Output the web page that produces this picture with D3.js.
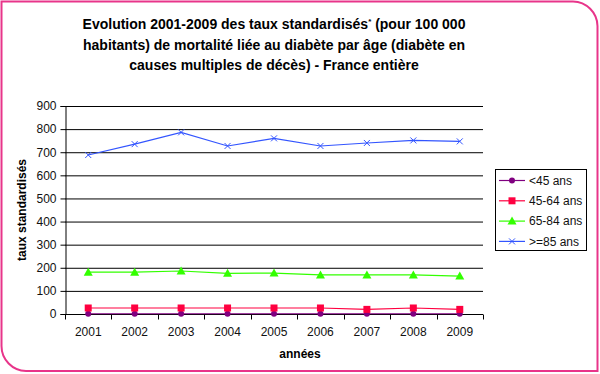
<!DOCTYPE html>
<html><head><meta charset="utf-8">
<script src="https://cdn.jsdelivr.net/npm/d3@7/dist/d3.min.js"></script>
<style>body{margin:0;background:#fff;}svg{display:block;font-family:"Liberation Sans",Arial,sans-serif;}</style>
</head><body>
<svg id="c" width="600" height="374"></svg>
<script>
const years = ["2001","2002","2003","2004","2005","2006","2007","2008","2009"];
const seriesNames = ["<45 ans","45-64 ans","65-84 ans",">=85 ans"];
const v_lt45 = [1,1,1,1,1,1,1,1,1];
const v_45_64 = [26,26,26,26,26,26,20,26,20];
const v_65_84 = [181,181,186,176,177,169,169,169,164];
const v_ge85 = [688,735,786,727,760,727,740,751,747];
const yTicks = [0,100,200,300,400,500,600,700,800,900];
const titleLines = ["Evolution 2001-2009 des taux standardisés* (pour 100 000","habitants) de mortalité liée au diabète par âge (diabète en","causes multiples de décès) - France entière"];
const colors = ["#800080","#ff0040","#33ff00","#3355ff"];
const markers = ["dot","square","triangle","x"];

(function(){
const svg = d3.select("#c");
// frame
svg.append("path")
  .attr("d","M1.5,1.5 H573 A25,25 0 0 1 597.5,26 V371 H26 A25,25 0 0 1 1.5,346 Z")
  .attr("fill","#fff").attr("stroke","#e8358a").attr("stroke-width",2);

// title
const t = svg.append("text").attr("text-anchor","middle").attr("font-weight","bold").attr("font-size",14).attr("fill","#000");
titleLines.forEach((l,i)=>{
  const ts = t.append("tspan").attr("x",274).attr("y",29+i*20.5);
  if(l.includes("*")){
    const parts = l.split("*");
    ts.text(parts[0]);
    t.append("tspan").attr("font-size",8).attr("dy",-5).text("*");
    t.append("tspan").attr("dy",5).text(parts[1]);
  } else ts.text(l);
});

const pL=65, pR=483, pT=106, pB=314;
const x = d3.scaleBand().domain(years).range([pL,pR]);
const y = d3.scaleLinear().domain([0,900]).range([pB,pT]);

// grid
svg.append("g").selectAll("line").data(yTicks.filter(d=>d>0)).join("line")
  .attr("x1",pL).attr("x2",pR).attr("y1",d=>y(d)+0.5).attr("y2",d=>y(d)+0.5)
  .attr("stroke","#000").attr("stroke-width",1);

// y axis
const ya = svg.append("g").attr("transform",`translate(${pL+0.5},0)`)
  .call(d3.axisLeft(y).tickValues(yTicks).tickSize(5).tickPadding(4).tickFormat(d3.format("d")));
ya.selectAll("text").attr("font-size",12).attr("fill","#111").attr("font-family","Liberation Sans, Arial, sans-serif");
ya.selectAll("line").attr("stroke","#000");
ya.select(".domain").attr("stroke","#000");
ya.selectAll(".tick").attr("transform",d=>`translate(0,${y(d)+0.5})`);

// x axis
const xa = svg.append("g").attr("transform",`translate(0,${pB+0.5})`)
  .call(d3.axisBottom(x).tickSize(0).tickPadding(13));
xa.selectAll("text").attr("font-size",12).attr("fill","#111").attr("font-family","Liberation Sans, Arial, sans-serif");
xa.select(".domain").attr("stroke","#000").attr("d",`M${pL},0H${pR}`);
const bounds = years.map(d=>x(d)).concat([pR]);
xa.append("g").selectAll("line").data(bounds).join("line")
  .attr("x1",d=>Math.round(d)+0.5).attr("x2",d=>Math.round(d)+0.5).attr("y1",0).attr("y2",5).attr("stroke","#000");

// axis titles
svg.append("text").attr("x",300).attr("y",358).attr("text-anchor","middle").attr("font-weight","bold").attr("font-size",12).text("années");
svg.append("text").attr("transform","translate(26,210) rotate(-90)").attr("text-anchor","middle").attr("font-weight","bold").attr("font-size",12).text("taux standardisés");

// series
const data = [v_lt45,v_45_64,v_65_84,v_ge85];
const cx = d=>x(d)+x.bandwidth()/2;
function drawMarker(g,type,color,px,py){
  if(type==="dot") g.append("circle").attr("cx",px).attr("cy",py).attr("r",3).attr("fill",color);
  else if(type==="square") g.append("rect").attr("x",px-3.5).attr("y",py-3.5).attr("width",7).attr("height",7).attr("fill",color);
  else if(type==="triangle") g.append("path").attr("d",`M${px},${py-4.5}L${px+4.5},${py+3.5}L${px-4.5},${py+3.5}Z`).attr("fill",color);
  else g.append("path").attr("d",`M${px-3},${py-3}L${px+3},${py+3}M${px-3},${py+3}L${px+3},${py-3}`).attr("stroke",color).attr("stroke-width",1);
}
const line = d3.line().x((d,i)=>cx(years[i])).y(d=>y(d));
data.forEach((vals,si)=>{
  const g = svg.append("g");
  g.append("path").datum(vals).attr("d",line).attr("fill","none").attr("stroke",colors[si]).attr("stroke-width",1.2);
  vals.forEach((v,i)=>drawMarker(g,markers[si],colors[si],cx(years[i]),y(v)));
});

// legend
const lg = svg.append("g");
lg.append("rect").attr("x",495.5).attr("y",169.5).attr("width",91).attr("height",81).attr("fill","#fff").attr("stroke","#000");
seriesNames.forEach((n,i)=>{
  const yy = 180.5+i*20.3;
  lg.append("line").attr("x1",499).attr("x2",525).attr("y1",yy).attr("y2",yy).attr("stroke",colors[i]).attr("stroke-width",1.2);
  drawMarker(lg,markers[i],colors[i],512,yy);
  lg.append("text").attr("x",529).attr("y",yy).attr("dy","0.35em").attr("font-size",12).attr("fill","#111").text(n);
});
})();
</script>
</body></html>
